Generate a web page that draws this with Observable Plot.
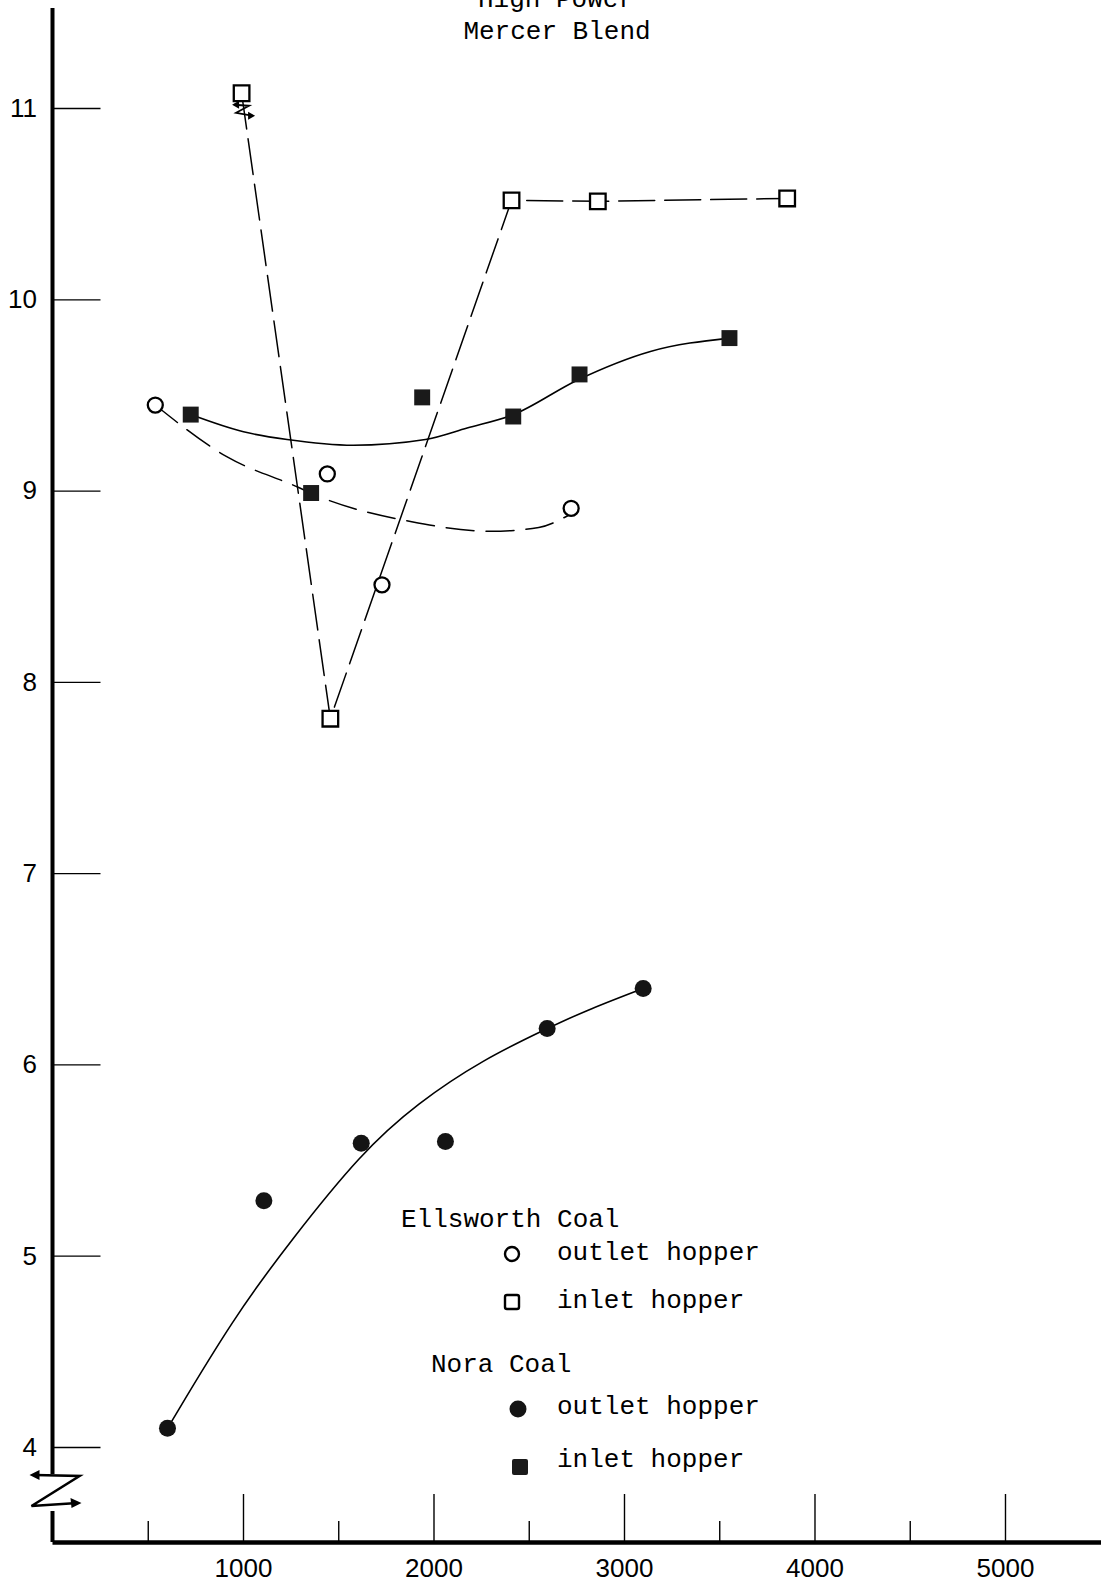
<!DOCTYPE html>
<html><head><meta charset="utf-8">
<script src="https://cdn.jsdelivr.net/npm/d3@7"></script>
<script src="https://cdn.jsdelivr.net/npm/@observablehq/plot@0.6"></script>
<style>
html,body{margin:0;padding:0;background:#fff;}
#chart{position:relative;width:1101px;height:1587px;overflow:hidden;}
#chart svg{display:block;}
</style></head><body><div id="chart"></div>
<script>
// ---- data ----
const titleLines = ["High Power", "Mercer Blend"];
const xTicksMajor = [1000, 2000, 3000, 4000, 5000];
const xTicksMinor = [500, 1500, 2500, 3500, 4500];
const yTicks = [4, 5, 6, 7, 8, 9, 10, 11];

// Ellsworth Coal
const ellsworthOutlet = [[537, 9.45], [1440, 9.09], [1727, 8.51], [2720, 8.91]];
const ellsworthOutletCurve = [[537, 9.45], [912, 9.18], [1287, 9.02], [1376, 8.98], [1883, 8.84], [2300, 8.79], [2550, 8.81], [2700, 8.87]];
const ellsworthInlet = [[990, 11.08], [1456, 7.81], [2407, 10.52], [2860, 10.515], [3854, 10.53]];
// Nora Coal
const noraOutlet = [[601, 4.10], [1107, 5.29], [1618, 5.59], [2060, 5.60], [2594, 6.19], [3098, 6.40]];
const noraOutletCurve = [[601, 4.10], [949, 4.68], [1247, 5.08], [1618, 5.54], [1912, 5.80], [2261, 6.03], [2594, 6.19], [2786, 6.28], [3098, 6.40]];
const noraInlet = [[723, 9.40], [1355, 8.99], [1938, 9.49], [2416, 9.39], [2764, 9.61], [3551, 9.80]];
const noraInletCurve = [[723, 9.40], [1000, 9.31], [1229, 9.27], [1577, 9.24], [1955, 9.27], [2174, 9.33], [2416, 9.40], [2752, 9.58], [3136, 9.73], [3551, 9.80]];

const legendGroups = [
  {title: "Ellsworth Coal", items: [
    {label: "outlet hopper", symbol: "circle", filled: false},
    {label: "inlet hopper", symbol: "square", filled: false}]},
  {title: "Nora Coal", items: [
    {label: "outlet hopper", symbol: "circle", filled: true},
    {label: "inlet hopper", symbol: "square", filled: true}]}
];

const xDomain = [0, 5504];
const yDomain = [3.503, 11.565];
const mono = "'Liberation Mono', 'Courier New', monospace";
const px = d => d[0], py = d => d[1];
const fmt = d => String(d);

const plot = Plot.plot({
  width: 1101, height: 1587,
  marginLeft: 52.5, marginRight: 0, marginTop: 0, marginBottom: 45,
  x: {domain: xDomain},
  y: {domain: yDomain},
  style: {fontFamily: "'Liberation Sans', Arial, sans-serif", fontSize: "26px", background: "white", color: "black", overflow: "visible"},
  marks: [
    Plot.axisY(yTicks, {tickSize: -48, tickFormat: () => "", strokeWidth: 1.4}),
    Plot.axisY(yTicks, {tickSize: 0, tickPadding: 16, fontSize: 26, tickFormat: fmt}),
    Plot.axisX(xTicksMajor, {tickSize: -48, tickFormat: () => "", strokeWidth: 1.4}),
    Plot.axisX(xTicksMinor, {tickSize: -21, tickFormat: () => "", strokeWidth: 1.4}),
    Plot.axisX(xTicksMajor, {tickSize: 0, tickPadding: 16, fontSize: 26, tickFormat: fmt}),
    Plot.ruleY([yDomain[0]], {strokeWidth: 4.5}),
    Plot.line(ellsworthInlet, {x: px, y: py, strokeDasharray: "36,10", strokeWidth: 1.5}),
    Plot.line(ellsworthOutletCurve, {x: px, y: py, curve: "monotone-x", strokeDasharray: "28,12", strokeWidth: 1.5}),
    Plot.line(noraInletCurve, {x: px, y: py, curve: "monotone-x", strokeWidth: 1.6}),
    Plot.line(noraOutletCurve, {x: px, y: py, curve: "basis", strokeWidth: 1.6}),
    Plot.dot(ellsworthOutlet, {x: px, y: py, symbol: "circle", r: 7.5, fill: "white", stroke: "black", strokeWidth: 2.3}),
    Plot.dot(ellsworthInlet, {x: px, y: py, symbol: "square", r: 8.8, fill: "white", stroke: "black", strokeWidth: 2.3}),
    Plot.dot(noraOutlet, {x: px, y: py, symbol: "circle", r: 8.5, fill: "#141414", stroke: "none"}),
    Plot.dot(noraInlet, {x: px, y: py, symbol: "square", r: 9, fill: "#1a1a1a", stroke: "none"})
  ]
});

document.getElementById("chart").appendChild(plot);

// ---- decorations: axis line with break, title, legend ----
const X = plot.scale("x"), Y = plot.scale("y");
const svg = d3.select(plot);
const x0 = X.apply(0);
const yBottom = Y.apply(yDomain[0]);
const g = svg.append("g").attr("stroke", "black").attr("fill", "none");
// vertical axis line, interrupted by a break symbol
g.append("line").attr("x1", x0).attr("x2", x0).attr("y1", 8).attr("y2", yBottom - 68).attr("stroke-width", 4);
g.append("line").attr("x1", x0).attr("x2", x0).attr("y1", yBottom - 31).attr("y2", yBottom).attr("stroke-width", 4);
const bt = yBottom - 67, bb = yBottom - 36;
g.append("path").attr("stroke-width", 2.6).attr("stroke-linejoin", "miter")
  .attr("d", `M${x0 - 18},${bt} L${x0 + 27},${bt + 1} L${x0 - 21},${bb} L${x0 + 25},${bb - 3}`);
g.append("path").attr("fill", "black").attr("stroke", "none")
  .attr("d", `M${x0 - 23},${bt} l10,-5 l0,10 z M${x0 + 29},${bb - 3} l-11,-5 l1,10 z`);

// small break mark on the off-scale point
{
  const sx = X.apply(ellsworthInlet[0][0]), sy = Y.apply(ellsworthInlet[0][1]);
  g.append("path").attr("stroke-width", 1.8)
    .attr("d", `M${sx - 7},${sy + 12} L${sx + 8},${sy + 13} L${sx - 5},${sy + 20} L${sx + 12},${sy + 23}`);
  g.append("path").attr("fill", "black").attr("stroke", "none")
    .attr("d", `M${sx - 9},${sy + 12} l7,-4 l0,8 z M${sx + 14},${sy + 23} l-7,-4 l0,8 z`);
}

// title
const tg = svg.append("g").attr("font-family", mono).attr("font-size", 26).attr("fill", "black").attr("text-anchor", "middle");
tg.append("text").attr("x", 556).attr("y", 7).text(titleLines[0]);
tg.append("text").attr("x", 557).attr("y", 39).text(titleLines[1]);

// legend
const lg = svg.append("g").attr("font-family", mono).attr("font-size", 26).attr("fill", "black").attr("text-anchor", "start");
const groupLayout = [
  {tx: 401, ty: 1227, items: [{sx: 512, sy: 1254, ly: 1260}, {sx: 512, sy: 1302, ly: 1308}]},
  {tx: 431, ty: 1372, items: [{sx: 518, sy: 1409, ly: 1414}, {sx: 520, sy: 1467, ly: 1467}]}
];
legendGroups.forEach((grp, i) => {
  const L = groupLayout[i];
  lg.append("text").attr("x", L.tx).attr("y", L.ty).text(grp.title);
  grp.items.forEach((it, j) => {
    const p = L.items[j];
    lg.append("text").attr("x", 557).attr("y", p.ly).text(it.label);
    if (it.symbol === "circle") {
      lg.append("circle").attr("cx", p.sx).attr("cy", p.sy).attr("r", it.filled ? 8.5 : 7)
        .attr("fill", it.filled ? "#141414" : "white").attr("stroke", it.filled ? "none" : "black").attr("stroke-width", 2.4);
    } else {
      const s = it.filled ? 16 : 14;
      lg.append("rect").attr("x", p.sx - s / 2).attr("y", p.sy - s / 2).attr("width", s).attr("height", s).attr("rx", 2)
        .attr("fill", it.filled ? "#1a1a1a" : "white").attr("stroke", it.filled ? "none" : "black").attr("stroke-width", 2.4);
    }
  });
});
</script></body></html>
